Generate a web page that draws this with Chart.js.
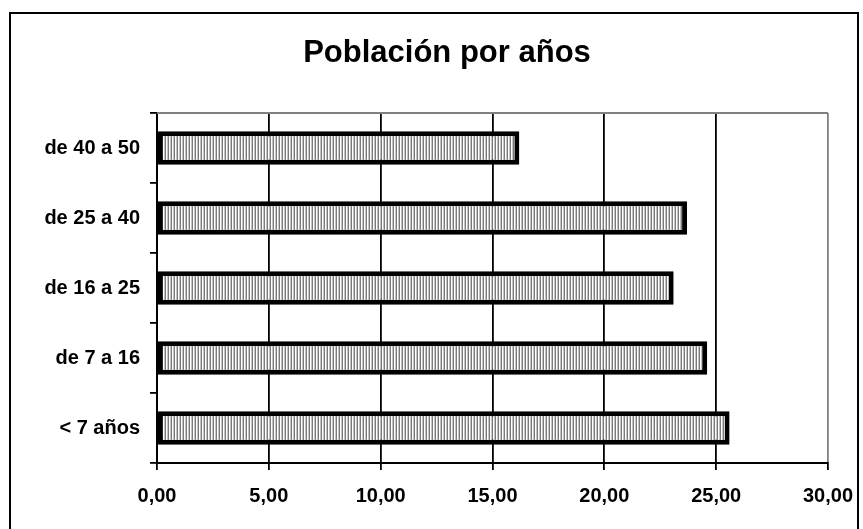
<!DOCTYPE html>
<html>
<head>
<meta charset="utf-8">
<script src="https://cdn.jsdelivr.net/npm/chart.js@4/dist/chart.umd.min.js"></script>
<style>
  html, body { margin: 0; padding: 0; background: #fff; }
  #wrap { width: 863px; height: 529px; }
</style>
</head>
<body>
<div id="wrap"><canvas id="grafico"></canvas></div>
<script>
// datos (de abajo hacia arriba)
const grupos = ['< 7 años', 'de 7 a 16', 'de 16 a 25', 'de 25 a 40', 'de 40 a 50'];
const poblacion = [25.6, 24.6, 23.1, 23.7, 16.2];
const titulo = 'Población por años';
const ejeMin = 0;
const ejeMax = 30;
const ejePaso = 5;

// trama de rayas verticales como en Excel
function crearTrama() {
    const c = document.createElement('canvas');
    c.width = 3; c.height = 1;
    const g = c.getContext('2d');
    g.fillStyle = '#7a7a7a'; g.fillRect(0, 0, 1, 1);
    g.fillStyle = '#ffffff'; g.fillRect(1, 0, 1, 1);
    g.fillStyle = '#c4c4c4'; g.fillRect(2, 0, 1, 1);
    return g.createPattern(c, 'repeat');
}

// marco exterior, título y borde gris del área de trazado
const marco = {
    id: 'marco',
    afterDraw(chart) {
        const ctx = chart.ctx;
        const a = chart.chartArea;
        ctx.save();
        ctx.strokeStyle = '#808080';
        ctx.lineWidth = 2;
        ctx.beginPath();
        ctx.moveTo(a.left, a.top);
        ctx.lineTo(a.right, a.top);
        ctx.stroke();
        ctx.strokeStyle = '#000';
        ctx.lineWidth = 2;
        ctx.strokeRect(10, 13, 848, 530);
        ctx.fillStyle = '#000';
        ctx.font = 'bold 31px "Liberation Sans"';
        ctx.textAlign = 'center';
        ctx.textBaseline = 'middle';
        ctx.fillText(titulo, 447, 53);
        ctx.restore();
    }
};

const ctx = document.getElementById('grafico').getContext('2d');

new Chart(ctx, {
    type: 'bar',
    data: {
        labels: grupos,
        datasets: [{
            label: titulo,
            data: poblacion,
            backgroundColor: crearTrama(),
            borderColor: '#000',
            borderWidth: 5,
            borderSkipped: false,
            barPercentage: 0.48,
            categoryPercentage: 1
        }]
    },
    options: {
        indexAxis: 'y',
        responsive: true,
        maintainAspectRatio: false,
        animation: false,
        layout: { padding: { left: 0, right: 35, top: 113, bottom: 0 } },
        plugins: {
            legend: { display: false },
            tooltip: { enabled: false },
            title: { display: false }
        },
        scales: {
            x: {
                min: ejeMin,
                max: ejeMax,
                ticks: {
                    stepSize: ejePaso,
                    color: '#000',
                    padding: 14,
                    font: { family: 'Liberation Sans', size: 20, weight: 'bold' },
                    callback: v => v.toFixed(2).replace('.', ',')
                },
                grid: {
                    color: c => (c.tick && c.tick.value === ejeMax) ? '#808080' : '#000',
                    lineWidth: 1.8,
                    tickColor: '#000',
                    tickLength: 7
                },
                border: { color: '#000', width: 2 },
                afterFit: s => { s.height = 66; s.paddingRight = 0; s.paddingLeft = 0; }
            },
            y: {
                reverse: true,
                ticks: {
                    color: '#000',
                    padding: 10,
                    font: { family: 'Liberation Sans', size: 20, weight: 'bold' }
                },
                grid: {
                    offset: true,
                    drawOnChartArea: false,
                    tickColor: '#000',
                    lineWidth: 1.8,
                    tickLength: 7
                },
                border: { color: '#000', width: 2 },
                afterFit: s => { s.width = 157; }
            }
        }
    },
    plugins: [marco]
});
</script>
</body>
</html>
